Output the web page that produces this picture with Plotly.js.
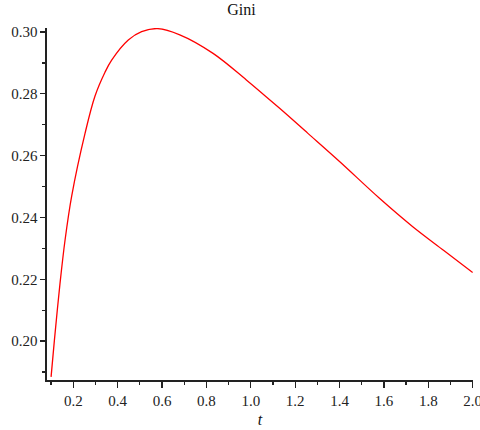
<!DOCTYPE html>
<html>
<head>
<meta charset="utf-8">
<script src="https://cdn.plot.ly/plotly-3.0.1.min.js"></script>
<style>html,body{margin:0;padding:0;background:#fff;}#chart{width:480px;height:430px;}</style>
</head>
<body>
<div id="chart"></div>
<script>
const tValues = [0.10, 0.115, 0.14, 0.163, 0.193, 0.253, 0.298, 0.343, 0.373, 0.448, 0.508, 0.58, 0.68, 0.83, 0.98, 1.13, 1.2575, 1.40, 1.58, 1.73, 1.87, 2.0];
const giniValues = [0.1884, 0.2003, 0.2185, 0.2327, 0.2470, 0.2672, 0.2793, 0.2870, 0.2909, 0.2974, 0.3001, 0.3011, 0.2991, 0.2931, 0.2845, 0.2753, 0.2672, 0.2581, 0.2462, 0.2370, 0.2293, 0.2222];
const chartTitle = "Gini";
const xTitle = "t";

const fontFamily = "'Liberation Serif', 'Times New Roman', serif";

const trace = {
  x: tValues,
  y: giniValues,
  type: "scatter",
  mode: "lines",
  line: {color: "#ff0000", width: 1.3, shape: "spline", smoothing: 1},
  hoverinfo: "skip"
};

const layout = {
  width: 480,
  height: 430,
  margin: {l: 47, r: 7, t: 28, b: 50},
  paper_bgcolor: "#ffffff",
  plot_bgcolor: "#ffffff",
  showlegend: false,
  font: {family: fontFamily, size: 15, color: "#222"},
  title: {text: chartTitle, font: {family: fontFamily, size: 16, color: "#111"},
          xref: "container", x: 0.503, xanchor: "center", y: 0.977, yanchor: "middle"},
  xaxis: {
    range: [0.0816, 2.0015],
    showgrid: false, zeroline: false,
    showline: true, linecolor: "#222", linewidth: 1.6,
    ticks: "outside", ticklen: 6, tickwidth: 1.3, tickcolor: "#222",
    tick0: 0, dtick: 0.2, tickformat: ".1f",
    ticklabeloverflow: "allow",
    minor: {dtick: 0.1, tick0: 0, ticks: "outside", ticklen: 3, tickwidth: 1.3, tickcolor: "#222", showgrid: false},
    tickfont: {family: fontFamily, size: 15, color: "#222"},
    title: {text: "<i>" + xTitle + "</i>", font: {family: fontFamily, size: 16, color: "#111"}, standoff: 6},
    fixedrange: true
  },
  yaxis: {
    range: [0.1874, 0.3013],
    showgrid: false, zeroline: false,
    showline: true, linecolor: "#222", linewidth: 1.6,
    ticks: "outside", ticklen: 5, tickwidth: 1.3, tickcolor: "#222",
    tick0: 0, dtick: 0.02, tickformat: ".2f",
    minor: {dtick: 0.01, tick0: 0, ticks: "outside", ticklen: 3, tickwidth: 1.3, tickcolor: "#222", showgrid: false},
    tickfont: {family: fontFamily, size: 15, color: "#222"},
    ticklabelstandoff: 0,
    fixedrange: true
  }
};

Plotly.newPlot("chart", [trace], layout, {displayModeBar: false, staticPlot: true});
</script>
</body>
</html>
